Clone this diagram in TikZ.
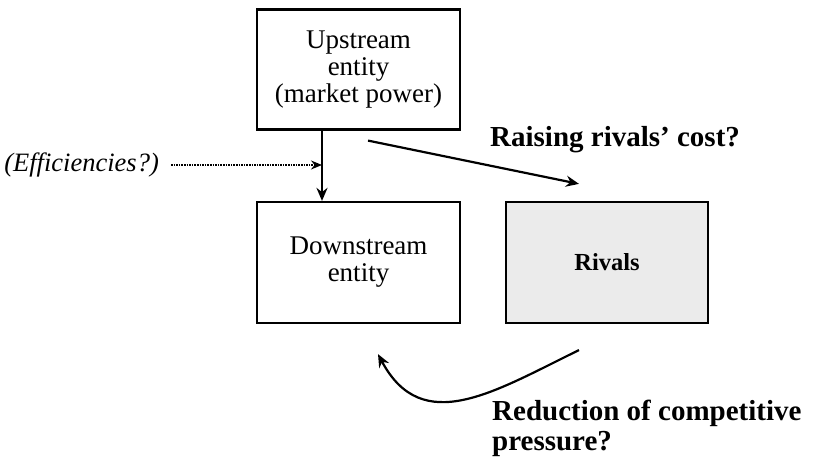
\documentclass[tikz,border=0pt]{standalone}
\usepackage{fontspec}
\setmainfont{Liberation Serif}
\usetikzlibrary{arrows.meta}

\begin{document}
\begin{tikzpicture}
  [x=1pt, y=1pt,
   entity/.style = {draw, line width=2.2pt, minimum width=203pt, minimum height=120pt,
                    align=center, font=\fontsize{27}{27}\selectfont},
   link/.style = {line width=2.2pt, -{Stealth[length=13pt,width=11pt]}},
   question/.style = {font=\fontsize{29}{30}\selectfont\bfseries, align=left, inner sep=0pt}]

\useasboundingbox (0,0) rectangle (815,457);

% Boxes
\node[entity] (upstream) at (358.5,387.5) {Upstream\\entity\\(market power)};
\node[entity, minimum height=121pt] (downstream) at (358.5,194.5) {Downstream\\entity};
\node[entity, fill=black!8, minimum width=202pt, minimum height=121pt,
      font=\fontsize{24.5}{25}\selectfont\bfseries] (rivals) at (607,194.5) {Rivals};

% Efficiencies
\node[font=\fontsize{26.5}{28}\selectfont\itshape, anchor=east, inner sep=0pt] (eff) at (159,292) {(Efficiencies?)};
\coordinate (join) at (322,292);
\draw[line width=1.6pt, densely dotted, -{Stealth[length=11pt,width=9pt]}] ([xshift=12pt]eff.east) -- (join);

% Vertical link
\draw[link] (upstream.south -| join) -- (downstream.north -| join);

% Raising rivals' cost
\draw[link] ([shift={(9.5,-10)}]upstream.south) -- ([shift={(-28,17)}]rivals.north);
\node[question, anchor=base west] (raising) at (490,310) {Raising rivals’ cost?};

% Reduction of competitive pressure
\draw[link] ([shift={(-28,-26)}]rivals.south) to [out=206,in=-62,looseness=1.2] ([shift={(19.5,-30)}]downstream.south);
\node[question, anchor=north west] (reduction) at (492,57) {Reduction of competitive\\pressure?};

\end{tikzpicture}
\end{document}
